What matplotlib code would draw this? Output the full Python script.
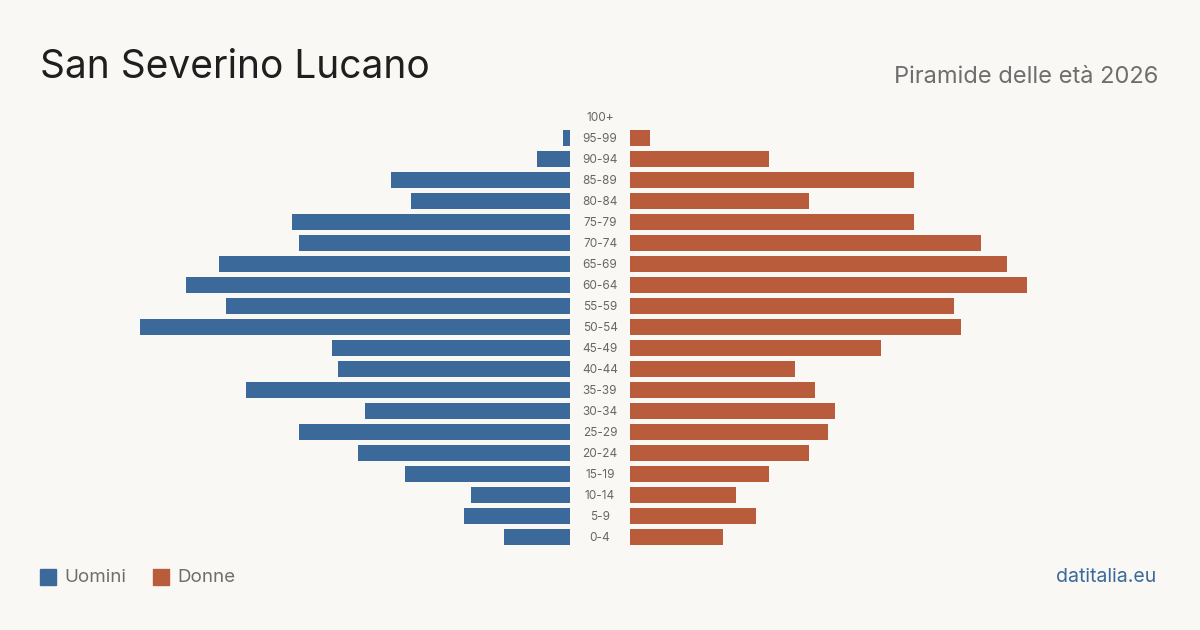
import matplotlib.pyplot as plt
import matplotlib.transforms as mtransforms
from matplotlib.patches import Rectangle

# age classes from youngest to oldest
ages = ["0-4", "5-9", "10-14", "15-19", "20-24", "25-29", "30-34", "35-39",
        "40-44", "45-49", "50-54", "55-59", "60-64", "65-69", "70-74",
        "75-79", "80-84", "85-89", "90-94", "95-99", "100+"]
men = [10, 16, 15, 25, 32, 41, 31, 49, 35, 36, 65, 52, 58, 53, 41, 42,
       24, 27, 5, 1, 0]
women = [14, 19, 16, 21, 27, 30, 31, 28, 25, 38, 50, 49, 60, 57, 53, 43,
         27, 43, 21, 3, 0]

bg = "#f9f8f4"
blue = "#3b6a9a"
orange = "#b85c3c"
xmax = 65

plt.rcParams["font.family"] = ["Inter", "DejaVu Sans"]

fig = plt.figure(figsize=(12, 6.3), dpi=100, facecolor=bg)
bottom = (630 - 547.5) / 630
height = 441 / 630
axL = fig.add_axes([140 / 1200, bottom, 430 / 1200, height])
axR = fig.add_axes([630 / 1200, bottom, 430 / 1200, height])

y = list(range(len(ages)))
axL.barh(y, men, height=0.8, color=blue)
axR.barh(y, women, height=0.8, color=orange)
axL.set_xlim(xmax, 0)
axR.set_xlim(0, xmax)
for ax in (axL, axR):
    ax.set_ylim(-0.5, len(ages) - 0.5)
    ax.axis("off")

# age labels in the middle
trans = mtransforms.blended_transform_factory(fig.transFigure, axL.transData)
for i, a in enumerate(ages):
    fig.text(0.5, i - 0.06, a, transform=trans, ha="center", va="center",
             fontsize=8.5, color="#666666")

fig.text(40 / 1200, 1 - 67 / 630, "San Severino Lucano", fontsize=28,
         color="#1f1f1f", va="center", ha="left")
fig.text(1158 / 1200, 1 - 77 / 630, "Piramide delle età 2026", fontsize=17,
         color="#6e6e6e", va="center", ha="right")

# legend
ly = 1 - 577 / 630
fig.patches.append(Rectangle((40 / 1200, ly - 8 / 630), 16 / 1200, 16 / 630,
                             transform=fig.transFigure, color=blue))
fig.text(64 / 1200, ly, "Uomini", fontsize=13.5, color="#6e6e6e", va="center")
fig.patches.append(Rectangle((153 / 1200, ly - 8 / 630), 16 / 1200, 16 / 630,
                             transform=fig.transFigure, color=orange))
fig.text(177 / 1200, ly, "Donne", fontsize=13.5, color="#6e6e6e", va="center")

fig.text(1156 / 1200, ly, "datitalia.eu", fontsize=14, color=blue,
         va="center", ha="right")

fig.savefig("out.png", dpi=100, facecolor=bg)
